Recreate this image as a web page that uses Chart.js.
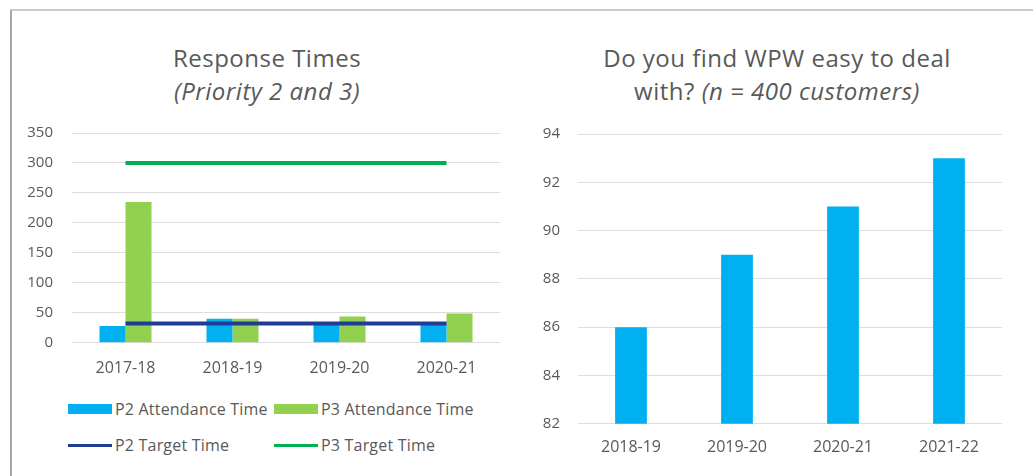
<!DOCTYPE html>
<html>
<head>
<meta charset="utf-8">
<script src="https://cdn.jsdelivr.net/npm/chart.js@4"></script>
<style>
  body { margin: 0; background: #fff; font-family: "Open Sans", sans-serif; }
  #frame { position: absolute; left: 10px; top: 9px; width: 1023px; height: 467px;
           border-top: 2px solid #cbcbcb; border-left: 2px solid #a8a8a8; }
  .title { position: absolute; width: 440px; color: #595959; font-size: 24px;
           letter-spacing: 0.5px; line-height: 33px; text-align: center; }
  .box { position: absolute; }
  .legend-item { position: absolute; display: flex; align-items: center;
                 font-size: 16px; letter-spacing: 0.2px; color: #595959; white-space: nowrap; }
  .legend-item span.sw { display: inline-block; width: 44px; margin-right: 3px; }
</style>
</head>
<body>
<div id="frame"></div>

<div class="title" style="left:47px; top:41px;">Response Times<br><i>(Priority 2 and 3)</i></div>
<div class="title" style="left:557px; top:41px;">Do you find WPW easy to deal<br>with? <i>(n = 400 customers)</i></div>

<div class="box" style="left:20px; top:124px; width:480px; height:270px;">
  <canvas id="response-times-graph"></canvas>
</div>
<div id="response-legend"></div>

<div class="box" style="left:528px; top:125px; width:474px; height:346px;">
  <canvas id="easy-to-deal-graph"></canvas>
</div>

<script>
const responseYears = ["2017-18", "2018-19", "2019-20", "2020-21"];
const p2Attendance = [28, 40, 33, 33];
const p3Attendance = [235, 40, 44, 49];
const p2Target = [32, 32, 32, 32];
const p3Target = [300, 300, 300, 300];

const surveyYears = ["2018-19", "2019-20", "2020-21", "2021-22"];
const easyToDeal = [86, 89, 91, 93];

const grey = "#595959";
const gridGrey = "#dedede";

Chart.defaults.font.family = "'Open Sans', sans-serif";
Chart.defaults.color = grey;
Chart.defaults.animation = false;

const responseDatasets = [
  {
    type: "line",
    label: "P2 Target Time",
    data: p2Target,
    borderColor: "#1f3c96",
    backgroundColor: "#1f3c96",
    borderWidth: 4,
    pointRadius: 0,
    order: 0,
  },
  {
    type: "line",
    label: "P3 Target Time",
    data: p3Target,
    borderColor: "#00b050",
    backgroundColor: "#00b050",
    borderWidth: 4,
    pointRadius: 0,
    order: 0,
  },
  {
    label: "P2 Attendance Time",
    data: p2Attendance,
    backgroundColor: "#00b0f0",
    order: 1,
  },
  {
    label: "P3 Attendance Time",
    data: p3Attendance,
    backgroundColor: "#92d050",
    order: 1,
  },
];

// y tick padding also pads the top/bottom of the axis, so the gap
// between labels and plot is made with an invisible tick mark instead
function yAxis(min, max, step, gap, width) {
  return {
    min: min,
    max: max,
    ticks: { stepSize: step, padding: 0, font: { size: 15 } },
    grid: { color: gridGrey, drawTicks: true, tickLength: gap, tickColor: "transparent" },
    border: { display: false },
    afterFit: function (scale) {
      scale.width = width;
    },
  };
}

function xAxis(pad) {
  return {
    grid: { display: false, drawTicks: false },
    border: { display: false },
    ticks: { padding: pad, font: { size: 16 } },
  };
}

new Chart("response-times-graph", {
  type: "bar",
  data: {
    labels: responseYears,
    datasets: responseDatasets,
  },
  options: {
    responsive: true,
    maintainAspectRatio: false,
    categoryPercentage: 0.486,
    barPercentage: 1,
    layout: { padding: 0 },
    plugins: { legend: { display: false }, tooltip: { enabled: false } },
    scales: {
      x: xAxis(16),
      y: yAxis(0, 350, 50, 19, 52),
    },
  },
});

// legend laid out in two columns like the original
var legendOrder = [2, 3, 0, 1];
var legendEl = document.getElementById("response-legend");
legendOrder.forEach(function (idx, i) {
  var ds = responseDatasets[idx];
  var item = document.createElement("div");
  item.className = "legend-item";
  item.style.left = (i % 2 === 0 ? 68 : 274) + "px";
  item.style.top = (i < 2 ? 398 : 434) + "px";
  item.style.height = "22px";
  var sw = document.createElement("span");
  sw.className = "sw";
  sw.style.background = ds.type === "line" ? ds.borderColor : ds.backgroundColor;
  sw.style.height = ds.type === "line" ? "3px" : "10px";
  item.appendChild(sw);
  item.appendChild(document.createTextNode(ds.label));
  legendEl.appendChild(item);
});

new Chart("easy-to-deal-graph", {
  type: "bar",
  data: {
    labels: surveyYears,
    datasets: [
      {
        label: "Easy to deal with",
        data: easyToDeal,
        backgroundColor: "#00b0f0",
      },
    ],
  },
  options: {
    responsive: true,
    maintainAspectRatio: false,
    categoryPercentage: 0.3,
    barPercentage: 1,
    layout: { padding: 0 },
    plugins: { legend: { display: false }, tooltip: { enabled: false } },
    scales: {
      x: xAxis(14),
      y: yAxis(82, 94, 2, 18, 50),
    },
  },
});
</script>
</body>
</html>
